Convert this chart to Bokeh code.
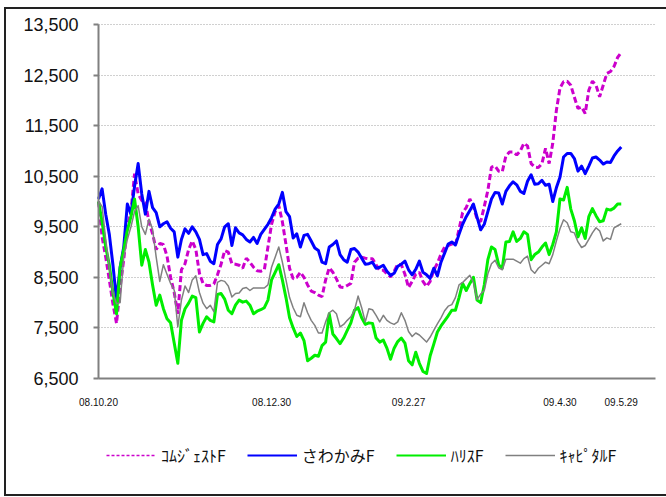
from bokeh.plotting import figure
from bokeh.models import (Range1d, FixedTicker, NumeralTickFormatter, Legend, LegendItem,
                          ColumnDataSource, InlineStyleSheet)
from bokeh.embed import file_html
from bokeh.resources import INLINE

# ---------------- data ----------------
tick_index = [0, 48, 86, 128, 145]
tick_labels = ["08.10.20", "08.12.30", "09.2.27", "09.4.30", "09.5.29"]

comgest = [10000, 9300, 8900, 8450, 7980, 7590, 8300, 8850, 9500, 9800,
           10550, 10150, 10020, 9980, 9600, 9360, 9050, 9170, 9150, 8920,
           8500, 8200, 7780, 8650, 8770, 9050, 9220, 9050, 8580, 8380,
           8340, 8340, 8370, 8550, 8760, 9030, 9000, 8770,
           8760, 8740, 8680, 8880, 8800, 8700, 8630, 8620, 8650, 9100,
           9550, 9800, 9920, 9600, 9150, 8680, 8470, 8500, 8600, 8500,
           8350, 8230, 8200, 8150, 8120, 8450, 8690, 8600, 8470, 8310,
           8300, 8340, 8380, 8800, 8880, 8900,
           8880, 8870, 8870, 8750, 8640, 8640, 8570, 8510, 8620, 8760,
           8750, 8560, 8300, 8420, 8560, 8600, 8420, 8320, 8420, 8640,
           8780, 8960, 9100, 9130, 9160, 9140, 9450, 9780, 9880, 10050,
           9900, 9650, 9600, 9900, 10220, 10680,
           10700, 10600, 10590, 10900, 10980, 10980, 10920, 11000, 11150, 11100,
           10750, 10680, 10670, 10750, 11050, 10750, 11150, 11800, 12240, 12370,
           12380, 12300, 12060, 11840, 11870, 11740, 12200, 12380, 12300, 12070,
           12300, 12530, 12570, 12670, 12850, 12950]

sawakami = [10050, 10250, 9750, 9350, 8750, 8050, 8700, 9100, 9950, 9750,
            10300, 10750, 10150, 9750, 10200, 9880, 9780, 9500, 9560, 9600,
            9470, 9400, 8900, 9250, 9460, 9370, 9500, 9400, 9250, 8950,
            8970, 8820, 8770, 9150, 9260, 9500,
            9560, 9130, 9480, 9380, 9340, 9250, 9200, 9290, 9170, 9350,
            9450, 9550, 9680, 9850, 9950, 10180, 9800, 9700, 9280, 9360,
            9100, 9330, 9350, 9220, 9080, 9030, 8800, 8770, 9100, 9150,
            9220, 8950, 8850, 8800, 9050, 9070, 9000, 8880,
            8760, 8770, 8800, 8680, 8700, 8740, 8620, 8540, 8580, 8720,
            8760, 8820, 8650, 8550, 8660, 8820, 8600, 8550, 8480, 8680,
            8530, 8800, 8980, 9160, 9200, 9140, 9350, 9550, 9700, 9820,
            9950, 9690, 9440, 9550, 9800, 10050,
            10180, 10170, 9950, 10200, 10310, 10390, 10330, 10200, 10160, 10400,
            10530, 10340, 10350, 10420, 10320, 10340, 10000, 10270, 10480, 10880,
            10950, 10950, 10850, 10600, 10700, 10550, 10700, 10860, 10880, 10820,
            10740, 10780, 10770, 10900, 11000, 11080]

harris = [10000, 9600, 9100, 8750, 8200, 7780, 8700, 9050, 9430, 9700,
          10050, 9500, 8740, 9050, 8800, 8350, 7950, 8150, 7880, 7680,
          7600, 7200, 6800, 7650, 7880, 7990, 8130, 8100, 7420, 7590,
          7720, 7650, 7620, 8160, 8180, 8070, 7850, 7780,
          7950, 8050, 8010, 8030, 7950, 7780, 7830, 7860, 7900, 8050,
          8450, 8600, 8750, 8450, 8100, 7700, 7500, 7330, 7400, 7250,
          6850, 6900, 6960, 6940, 7150, 7220, 7780, 7380, 7290, 7190,
          7300, 7450, 7600, 7850, 7900, 7700,
          7570, 7600, 7590, 7300, 7220, 7260, 7100, 6880, 7100, 7230,
          7300, 7200, 6850, 6770, 7020, 6800, 6640, 6600, 6950, 7180,
          7420, 7540, 7640, 7740, 7850, 7850, 8100, 8380, 8240, 8380,
          8500, 8050, 8000, 8350, 8850, 9100,
          9050, 8750, 8680, 9200, 9210, 9400, 9210, 9270, 9400, 9350,
          8850, 8950, 9000, 9100, 9180, 8950, 9150, 9400, 10050, 10030,
          10280, 9850, 9620, 9300, 9480, 9270, 9700, 9860, 9720, 9600,
          9620, 9850, 9830, 9870, 9950, 9950]

capital = [10000, 9900, 9250, 8700, 8200, 7980, 8000, 8900, 9250, 9500,
           9800, 9920, 9500, 9350, 9650, 9450, 8900, 8420, 8750, 8560,
           8380, 8250, 7520, 8050, 8330, 8200, 8450, 8530, 8200, 7990,
           7880, 7950, 7820, 8400, 8440, 8420, 8330, 8110,
           8180, 8190, 8280, 8300, 8240, 8290, 8290, 8290, 8290, 8350,
           8700, 8900, 9100, 8800, 8450, 8100, 7900, 7750, 7720, 8000,
           7800, 7650, 7550, 7400, 7400, 7620, 7800, 7850, 7780, 7520,
           7570, 7650, 7720, 7850, 8130, 7900,
           7620, 7880, 7860, 7750, 7620, 7750, 7650, 7600, 7570, 7620,
           7800, 7650, 7430, 7330, 7400, 7360, 7290, 7220, 7320, 7450,
           7580, 7700, 7840, 7930, 7960, 8100, 8350, 8400, 8470, 8540,
           8400, 8060, 8170, 8240, 8570, 8770,
           8840, 8690, 8650, 8860, 8860, 8860, 8820, 8780, 8870, 8920,
           8650, 8580, 8680, 8740, 8800, 8770, 8950, 9220, 9460, 9640,
           9580, 9400, 9380, 9200, 9090, 9130, 9250, 9380, 9480, 9420,
           9220, 9280, 9250, 9480, 9520, 9560]

series_names = ["ｺﾑｼﾞｪｽﾄF", "さわかみF", "ﾊﾘｽF", "ｷｬﾋﾟﾀﾙF"]
y_ticks = [6500, 7500, 8500, 9500, 10500, 11500, 12500, 13500]
y_min, y_max = 6500, 13500
x_min, x_max = 0, 154.5

idx = list(range(len(sawakami)))
src = ColumnDataSource(dict(x=idx, comgest=comgest, sawakami=sawakami,
                            harris=harris, capital=capital))

# ---- page geometry: the frame covers the whole canvas, axes sit at fixed places ----
W, H = 666, 497
plot_left, plot_right, plot_top, plot_bottom = 98, 655, 24, 378
ypp = (y_max - y_min) / (plot_bottom - plot_top)       # value per pixel
xpp = (x_max - x_min) / (plot_right - plot_left)       # index per pixel
y_range = Range1d(y_max - (H - plot_top) * ypp, y_max + plot_top * ypp)
x_range = Range1d(x_min - plot_left * xpp, x_max + (W - plot_right) * xpp)

p = figure(width=W, height=H, output_backend="svg", toolbar_location=None,
           x_range=x_range, y_range=y_range,
           min_border=0, background_fill_color="white",
           border_fill_color="white", outline_line_color=None)

axis_col = "#808080"
yax = p.yaxis[0]
yax.fixed_location = x_min
yax.bounds = (y_min, y_max)
yax.ticker = FixedTicker(ticks=y_ticks)
yax.formatter = NumeralTickFormatter(format="0,0")
yax.axis_line_color = axis_col
yax.axis_line_width = 2
yax.major_tick_line_color = axis_col
yax.major_tick_line_width = 2
yax.major_tick_out = 5
yax.major_tick_in = 0
yax.minor_tick_line_color = None
yax.major_label_standoff = 15
yax.major_label_text_font = "Liberation Sans"
yax.major_label_text_font_size = "18px"
yax.major_label_text_color = "#111111"

xax = p.xaxis[0]
xax.fixed_location = y_min
xax.bounds = (x_min, x_max)
xax.ticker = FixedTicker(ticks=tick_index)
xax.major_label_overrides = {i: t for i, t in zip(tick_index, tick_labels)}
xax.axis_line_color = axis_col
xax.axis_line_width = 2
xax.major_tick_line_color = None
xax.minor_tick_line_color = None
xax.major_tick_out = 0
xax.major_tick_in = 0
xax.major_label_standoff = 19
xax.major_label_text_font = "'Liberation Sans Narrow', 'Liberation Sans'"
xax.major_label_text_font_size = "10px"
xax.major_label_text_color = "#111111"

p.xgrid.grid_line_color = None
p.ygrid.ticker = FixedTicker(ticks=y_ticks)
p.ygrid.bounds = (y_min, y_max)
p.ygrid.cross_bounds = (x_min, x_max)
p.ygrid.grid_line_color = "#a0a0a0"
p.ygrid.grid_line_dash = "1 2"
p.ygrid.grid_line_width = 1

p.line("x", "comgest", source=src, line_color="#cc00cc", line_width=3,
       line_dash="6 3")
p.line("x", "sawakami", source=src, line_color="#0000ff", line_width=3,
       line_join="round")
p.line("x", "harris", source=src, line_color="#00ee00", line_width=3,
       line_join="round")
p.line("x", "capital", source=src, line_color="#808080", line_width=1.5,
       line_join="round")

# legend swatches (thinner, like the original legend); one NaN row, nothing drawn
nan = float("nan")
blank = ColumnDataSource(dict(x=[nan], y=[nan]))
lg = [p.line("x", "y", source=blank, line_color="#cc00cc", line_width=1.5, line_dash="3 2"),
      p.line("x", "y", source=blank, line_color="#0000ff", line_width=2),
      p.line("x", "y", source=blank, line_color="#00ee00", line_width=2),
      p.line("x", "y", source=blank, line_color="#808080", line_width=1.5)]

legend = Legend(items=[LegendItem(label=n, renderers=[r], index=0)
                       for n, r in zip(series_names, lg)],
                orientation="horizontal", location=(106, 30),
                glyph_width=50, glyph_height=16, label_standoff=5, spacing=21,
                padding=0, margin=0, border_line_color=None,
                background_fill_alpha=0,
                label_text_font="Noto Sans CJK JP", label_text_font_size="16px",
                label_text_color="#111111")
p.add_layout(legend, "center")

# outer frame of the chart area (left, top, bottom edges; right edge lies off-page)
p.stylesheets = [InlineStyleSheet(css="""
:host::after { content: ""; position: absolute; left: 4px; top: 7px;
  width: 662px; height: 489px; box-sizing: border-box;
  border-left: 2px solid #222; border-top: 2px solid #222; border-bottom: 2px solid #222;
  pointer-events: none; }
""")]

open("out.html", "w").write(file_html(p, INLINE))
